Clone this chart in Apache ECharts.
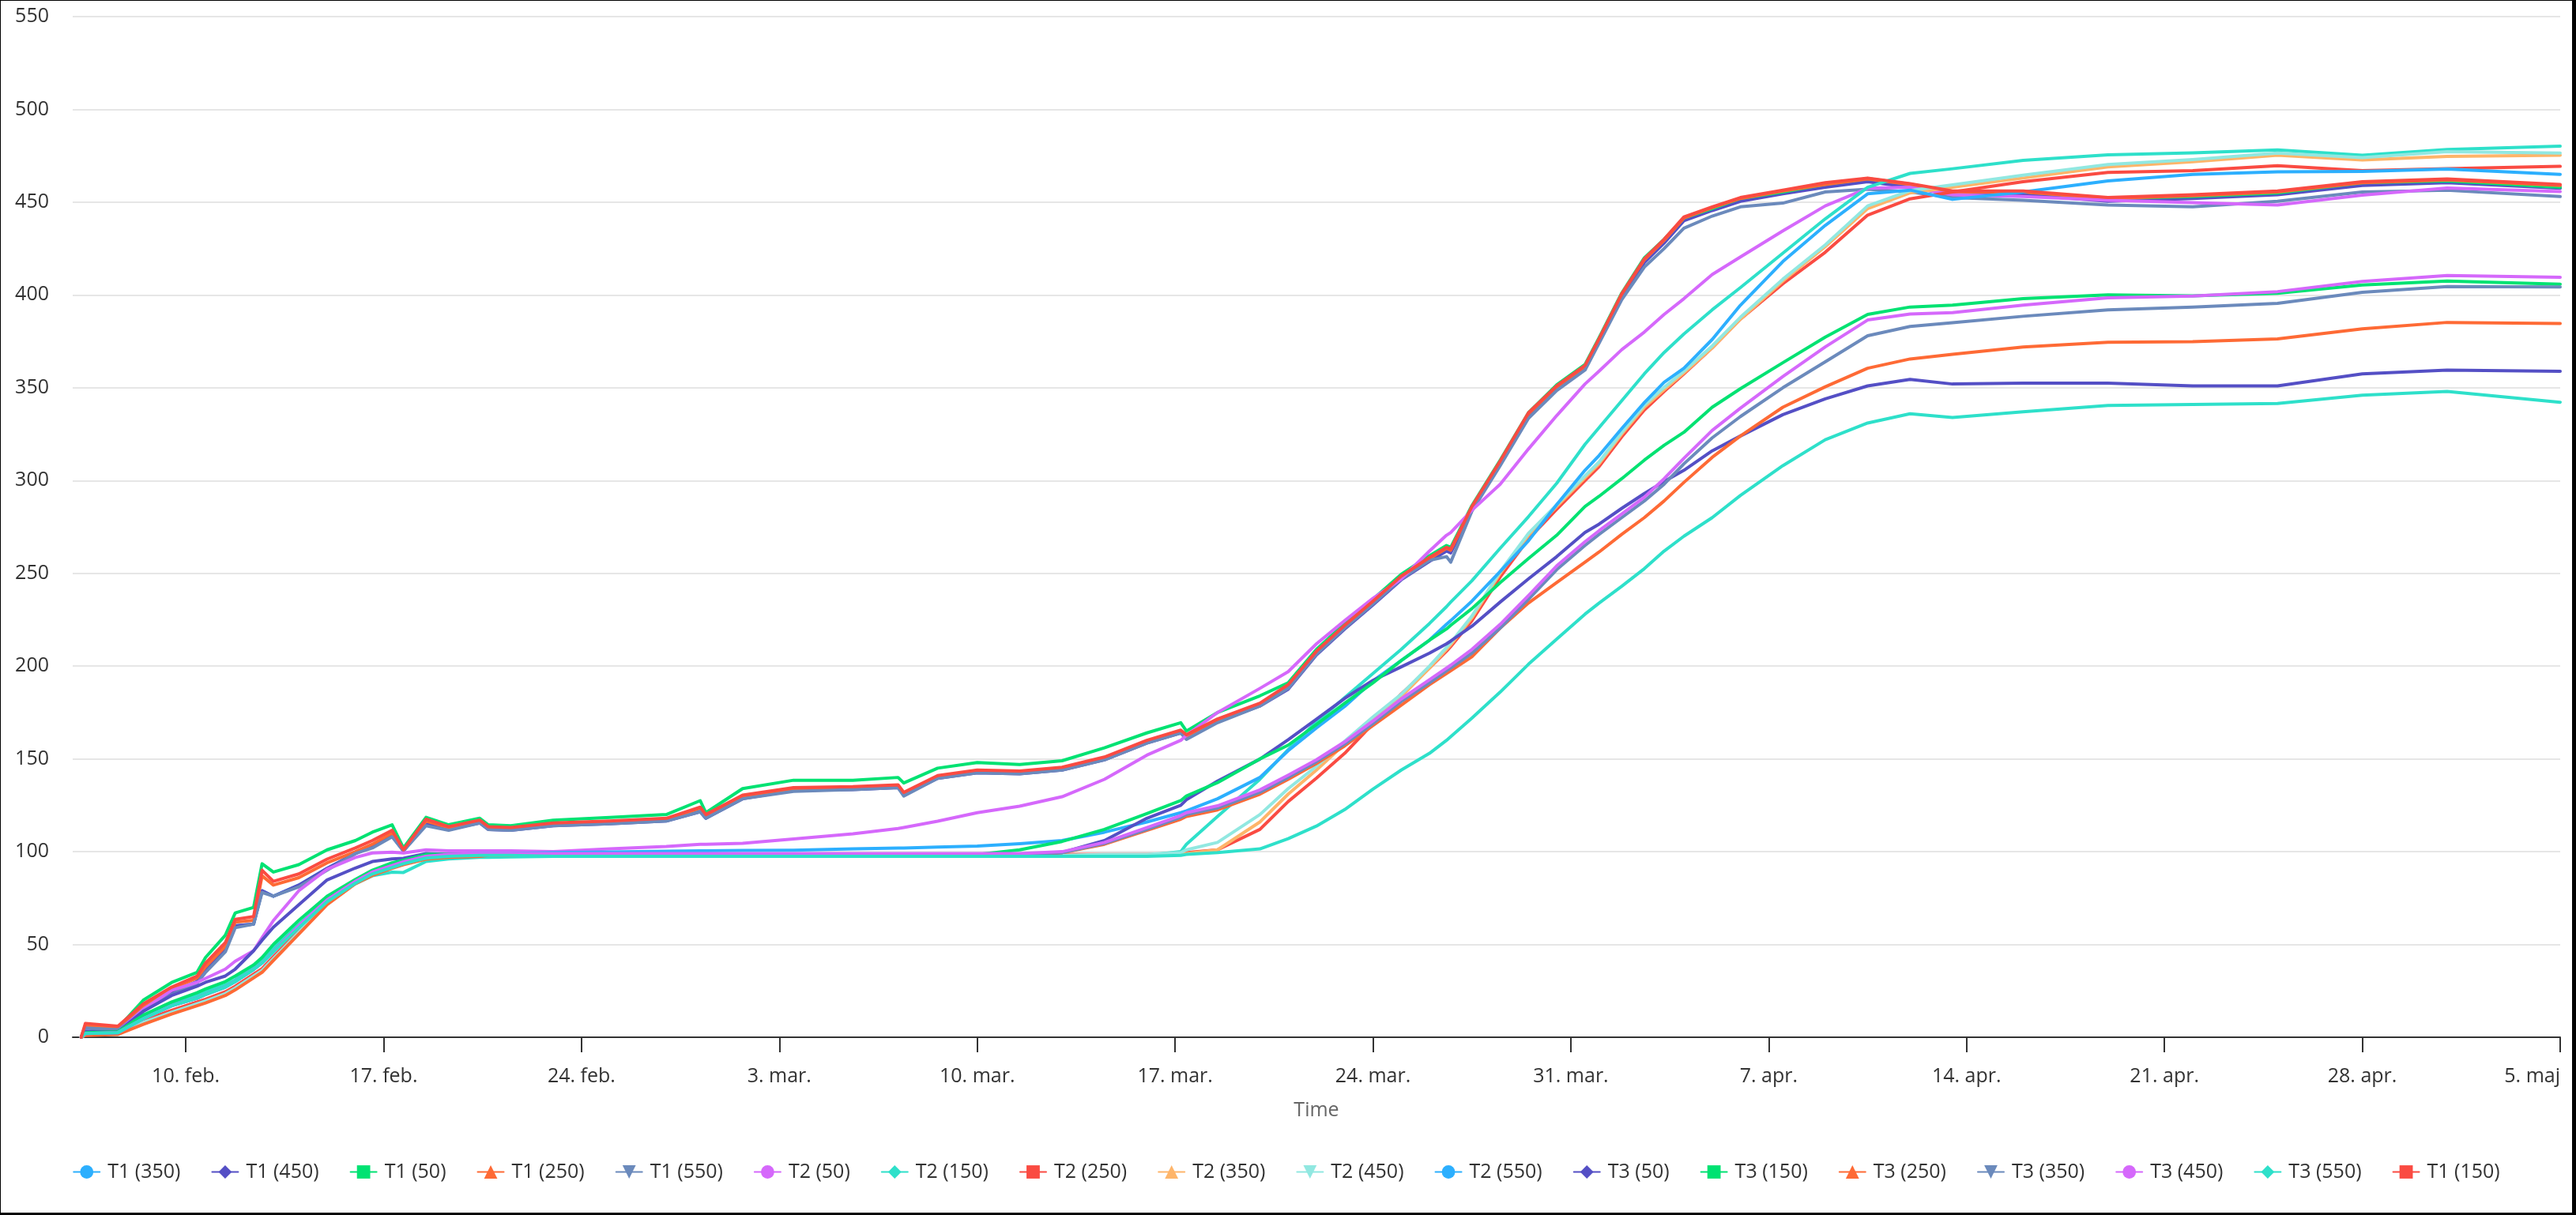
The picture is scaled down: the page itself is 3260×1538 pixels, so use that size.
<!DOCTYPE html>
<html>
<head>
<meta charset="utf-8">
<title>Time chart</title>
<script src="https://cdn.jsdelivr.net/npm/echarts@6/dist/echarts.min.js"></script>
<style>
  html, body { margin: 0; padding: 0; background: #000; }
  #chart { position: absolute; left: 1px; top: 1px; width: 3254px; height: 1534px; background: #fff; }
</style>
</head>
<body>
<div id="chart"></div>
<script>
// sample times (local)
const times = [
  '2025-02-06 07:12', '2025-02-06 10:48', '2025-02-07 14:24', '2025-02-08 12:00', '2025-02-09 12:00', '2025-02-10 09:36', '2025-02-10 16:48', '2025-02-11 09:36', '2025-02-11 18:00', '2025-02-12 09:36',
  '2025-02-12 16:48', '2025-02-13 02:24', '2025-02-14 00:00', '2025-02-15 00:00', '2025-02-16 00:00', '2025-02-16 14:24', '2025-02-17 07:12', '2025-02-17 16:48', '2025-02-18 12:00', '2025-02-19 07:12',
  '2025-02-20 09:36', '2025-02-20 16:48', '2025-02-21 12:00', '2025-02-23 00:00', '2025-02-25 00:00', '2025-02-27 00:00', '2025-02-28 04:48', '2025-02-28 09:36', '2025-03-01 16:48', '2025-03-03 12:00',
  '2025-03-05 14:24', '2025-03-07 04:48', '2025-03-07 09:36', '2025-03-08 14:24', '2025-03-10 00:00', '2025-03-11 12:00', '2025-03-13 00:00', '2025-03-14 12:00', '2025-03-16 00:00', '2025-03-17 04:48',
  '2025-03-17 09:36', '2025-03-18 12:00', '2025-03-20 00:00', '2025-03-21 00:00', '2025-03-22 00:00', '2025-03-23 00:00', '2025-03-24 00:00', '2025-03-25 00:00', '2025-03-26 00:00', '2025-03-26 14:24',
  '2025-03-26 18:00', '2025-03-27 12:00', '2025-03-28 12:00', '2025-03-29 12:00', '2025-03-30 12:00', '2025-03-31 12:00', '2025-04-01 00:00', '2025-04-01 19:12', '2025-04-02 14:24', '2025-04-03 07:12',
  '2025-04-04 00:00', '2025-04-05 00:00', '2025-04-06 00:00', '2025-04-07 12:00', '2025-04-09 00:00', '2025-04-10 12:00', '2025-04-12 00:00', '2025-04-13 12:00', '2025-04-16 00:00', '2025-04-19 00:00',
  '2025-04-22 00:00', '2025-04-25 00:00', '2025-04-28 00:00', '2025-05-01 00:00', '2025-05-05 00:00'
];

// x axis: weekly ticks
const tickDates = ['2025-02-10', '2025-02-17', '2025-02-24', '2025-03-03', '2025-03-10', '2025-03-17', '2025-03-24',
  '2025-03-31', '2025-04-07', '2025-04-14', '2025-04-21', '2025-04-28', '2025-05-05'];
const tickLabels = ['10. feb.', '17. feb.', '24. feb.', '3. mar.', '10. mar.', '17. mar.', '24. mar.',
  '31. mar.', '7. apr.', '14. apr.', '21. apr.', '28. apr.', '5. maj'];

// T1
const t1_350 = [0, 5, 4, 15, 24, 30, 36, 47, 60, 61, 79, 76, 82, 91, 99, 103, 108.5, 100.5, 115, 112,
  116, 112.5, 112, 114.5, 115.5, 117, 122, 118, 129, 133, 134, 135, 131, 140, 143, 142.5, 144.5, 150, 159, 164.5,
  161, 170, 179, 188.5, 207, 221, 234, 247.5, 257.5, 263, 262, 285, 309.5, 335, 350, 361, 376, 400, 418, 428.5,
  440.5, 446, 451, 455, 458.5, 461.5, 458.5, 454.5, 454.5, 451, 452.5, 454.5, 459.5, 461, 458];
const t1_450 = [0, 5, 4, 15, 24, 30, 36, 47, 60, 61, 79, 76, 82, 91, 99, 103, 108.5, 100.5, 115, 112,
  115.5, 112, 111.5, 114, 115, 116.5, 121.5, 118, 128.5, 133, 133.5, 134.5, 130.5, 139.5, 142.5, 142, 144, 149.5, 158.5, 164,
  161, 170, 178.5, 187.5, 206, 220, 233, 246.5, 256.5, 262, 261, 284, 308.5, 334, 349, 360, 375, 399.5, 417.5, 428,
  440, 445.5, 450.5, 454.5, 458, 461, 458, 454, 454, 450.5, 452, 454, 459, 460.5, 457.5];
const t1_50 = [0, 6, 5, 20, 29.5, 35, 43, 55, 67, 70, 93.5, 89, 93, 101, 106, 110.5, 114.5, 102, 118.5, 114.5,
  118, 114.5, 114, 117, 118.5, 120, 127.5, 121, 134, 138.5, 138.5, 140, 137, 145, 148, 147, 149, 156, 164, 169.5,
  165, 175, 184, 191, 209, 223, 236, 249.5, 259.5, 265, 264, 286.5, 311, 336.5, 351.6, 362.5, 377, 401, 420, 430,
  441.5, 446.5, 452, 455.5, 459.6, 462.7, 459.8, 455.5, 455.7, 452, 453, 455, 460.5, 461.5, 458];
const t1_250 = [0, 6.5, 5.5, 17, 26, 32, 38, 49, 62, 63, 87, 82, 86, 94, 100, 104, 110, 100.5, 116.5, 113,
  116.5, 113, 112.5, 115, 116, 117.5, 123.5, 119.5, 130, 134, 134.5, 135.5, 131.5, 140.5, 143.5, 143, 145, 150.5, 159.5, 165,
  162, 171, 179.5, 189, 207.5, 221.5, 234.5, 248, 258, 263.5, 262.5, 285.5, 310, 336, 350.5, 361.5, 376, 400.5, 419, 429.5,
  441.5, 447, 452, 456, 459.5, 462.5, 459.5, 455.5, 455.5, 452, 453.5, 455.5, 460.5, 462, 459];
const t1_550 = [0, 5, 4, 14, 23, 29, 35, 46, 59, 61, 78, 76, 81, 90, 99, 102, 108, 100.4, 114, 111.5,
  115.5, 112, 111.5, 114, 115, 116.5, 121.5, 118, 128.5, 132.5, 133.5, 134.5, 130, 139.5, 142.5, 142, 144, 149.5, 158.5, 164,
  160.5, 169.5, 178.5, 188, 206.5, 220.5, 233.5, 247, 257, 259, 256, 283.5, 308, 333.5, 348.5, 359.5, 374, 397.5, 415, 425,
  436, 442.5, 447.5, 449.5, 455.5, 457, 455.5, 452.5, 451, 448.5, 447.5, 450.5, 455.5, 456.4, 453];
const t1_150 = [0, 7.5, 6, 18, 27, 33, 40, 51, 63.5, 65, 90, 84, 88, 96, 102, 106, 111.5, 101, 117.5, 113.5,
  117, 113.5, 113, 115.5, 116.5, 118, 124, 120, 130.5, 134.5, 135, 136, 132, 141, 144, 143.5, 145.5, 151, 160, 165.5,
  163, 171.5, 180, 190, 208, 222, 235, 248.5, 258.5, 264, 263, 286, 310.5, 336.5, 351, 362, 376.5, 400.5, 419.5, 430,
  442, 447.5, 452.5, 456.5, 460.5, 463, 460, 456, 456, 452.5, 454, 456, 461, 462.5, 459.5];

// T2
const t2_50 = [0, 3, 3, 15, 25.3, 29.6, 31.7, 36.7, 41, 46.6, 53.7, 62.9, 79, 90.5, 96.9, 99.3, 99.7, 99.3, 101, 100.5,
  100.5, 100.5, 100.5, 100, 101.5, 102.8, 104, 104, 104.5, 106.8, 109.6, 112.5, 113, 116.4, 121, 124.5, 129.6, 139, 152, 160,
  162.7, 175, 188, 197, 212, 224.5, 236.5, 247, 262, 270.5, 272, 284, 298, 317, 335, 352, 359, 370.5, 380, 389.5,
  398, 411, 420.5, 434.5, 448, 457.5, 458, 454, 453, 451, 449.8, 448.5, 453.8, 457.6, 455.7];
const t2_150 = [0, 2.5, 2.5, 11, 18.3, 22.5, 24.6, 28.2, 31, 38, 41.6, 48, 60.7, 74.2, 82.7, 87, 89, 88.8, 94.7, 96.1,
  96.9, 97, 97.2, 97.5, 97.5, 97.5, 97.5, 97.5, 97.5, 97.5, 97.5, 97.5, 97.5, 97.5, 97.5, 97.5, 97.5, 98, 98, 100,
  104, 119, 139, 155, 170, 183, 196, 209, 223, 232, 234.5, 246, 263.5, 280.5, 298.5, 319.5, 328.5, 343, 357.5, 369,
  379, 392, 404, 422.5, 441, 458, 465.5, 468, 472.5, 475.5, 476.6, 478.2, 475.3, 478.4, 480.2];
const t2_250 = [0, 2, 2.5, 9, 14.5, 19, 20.5, 24.5, 27.5, 34, 37, 43.4, 57.6, 73.5, 84.7, 89.2, 93, 95, 97.5, 98,
  98.5, 98.5, 98.5, 98.5, 98.5, 98.5, 98.5, 98.5, 98.5, 98.5, 98.5, 98.5, 98.5, 98.5, 98.5, 98.5, 98.5, 98.5, 98.5, 99,
  99.5, 101, 112, 127, 139.6, 153, 169, 185, 199, 208, 210.5, 224.5, 248, 268.5, 284.5, 300, 307.5, 323.5, 338, 348,
  357.5, 371.5, 387, 406, 423, 443, 451.8, 455.5, 461, 466, 467, 469.7, 467, 468.1, 469.3];
const t2_350 = [0, 1.5, 2, 7.5, 13, 17.5, 19, 23, 26, 32.5, 35.5, 42, 56, 72, 83.2, 87.7, 91.6, 93.5, 96.5, 97.5,
  98, 98, 98, 98, 98, 98, 98, 98, 98, 98, 98, 98, 98, 98, 98, 98, 98, 98, 98, 98.5,
  99, 101, 116, 131, 144, 158, 171, 183.5, 199, 209, 211.5, 226, 250, 270.5, 286, 301.5, 309, 325, 339.5, 349,
  358, 371.5, 387, 407.5, 426, 446.5, 455, 458, 463, 469, 471.8, 475.3, 472.7, 474.6, 475.3];
const t2_450 = [0, 1.5, 2, 8, 13.5, 18, 19.5, 23.5, 26.5, 33, 36, 42.4, 56.6, 72.5, 83.7, 88.2, 92.1, 94, 97, 97.5,
  98, 98, 98, 98, 98, 98, 98, 98, 98, 98, 98, 98, 98, 98, 98, 98, 98, 98.5, 98.5, 99.5,
  101, 105, 120, 134, 146, 159.5, 172.6, 184.8, 200, 210, 212.5, 227, 251, 271.5, 287, 302.5, 310, 326, 340.7, 350.2,
  359, 372.5, 388, 408.5, 427, 448, 456.2, 459.3, 464.5, 470.3, 473, 476.5, 474, 477.2, 476.5];
const t2_550 = [0, 2, 2.5, 10, 17, 21, 23, 27, 30, 36.5, 40, 46, 60, 74, 84, 89, 92.5, 94.5, 97.5, 98.5,
  99, 99, 99, 99.5, 99.8, 100.2, 100.5, 100.5, 100.7, 100.8, 101.5, 102, 102, 102.5, 103, 104.3, 106, 110.5, 116, 121,
  122, 128.5, 140, 154.4, 166.7, 178.3, 192, 203, 214, 222.5, 224.5, 235, 251, 267.5, 287, 305.5, 313.5, 328, 342, 353,
  360.5, 376, 394.5, 418, 437.5, 454.5, 456.5, 451.5, 455.5, 461.5, 465, 466.3, 466.6, 467.8, 465];

// T3
const t3_50 = [0, 3, 3, 14, 22.5, 27.5, 29.6, 33, 36.7, 46.6, 52.3, 59.3, 71.4, 84.8, 91.2, 94.7, 96.1, 96.4, 99, 98.5,
  98.5, 98.5, 98.5, 98, 98, 98, 98, 98, 98, 98, 98, 98, 98, 98, 98, 98, 99.5, 106, 118, 125,
  128, 138, 149.9, 160.3, 171.4, 182.6, 192.3, 199.6, 207, 212, 213.5, 221.5, 234.5, 247, 259, 272, 276.5, 285, 293, 299.5,
  305.5, 316, 324, 335.5, 344, 351, 354.5, 352, 352.5, 352.5, 351, 351, 357.5, 359.5, 358.9];
const t3_150 = [0, 2.5, 3, 12, 19, 24, 26, 30, 33, 39, 43, 50, 63, 76, 85, 90, 94, 95.4, 98.5, 98.5,
  98.5, 98.5, 98.5, 98.5, 98.5, 98.5, 98.5, 98.5, 98.5, 98.5, 98.5, 98.5, 98.5, 98.5, 98.5, 101, 105.5, 112, 120.5, 127.5,
  130, 137.2, 150, 157.4, 168.5, 180, 191, 203, 214, 220, 222, 231, 245, 258, 270.5, 286, 291.5, 301, 311, 319,
  326, 339.5, 349.5, 363.5, 377.3, 389.5, 393.5, 394.5, 398, 400, 399.5, 400.9, 405.4, 407.5, 405.8];
const t3_250 = [0, 1, 1.5, 7, 12.5, 17, 18.5, 22.5, 25.5, 32, 35, 41.4, 55.6, 71.5, 82.7, 87.2, 91.1, 93, 96, 97,
  97.5, 98, 98, 98.5, 98.5, 98.5, 98.5, 98.5, 98.5, 98.5, 98.5, 98.5, 98.5, 98.5, 98.5, 98.5, 99.5, 104, 111.5, 117.5,
  119, 122.5, 131, 139, 147.5, 157, 168, 179, 190, 196, 197.5, 205, 220.5, 234, 245, 256, 261.5, 271, 280, 289,
  299, 312.5, 324, 339.5, 350.5, 360.5, 365.5, 368, 372, 374.5, 374.8, 376.3, 381.7, 385.2, 384.6];
const t3_350 = [0, 2, 2.5, 10, 17, 21, 23, 27, 30, 36.5, 40, 46, 60, 74, 84, 89, 92.5, 94.5, 97.5, 98.5,
  98.5, 98.5, 98.5, 98.5, 98.5, 98.5, 98.5, 98.5, 98.5, 98.5, 98.5, 98.5, 98.5, 98.5, 98.5, 98.5, 99.5, 104.5, 112, 118.5,
  120, 123.5, 132, 140, 148.5, 158, 169, 181, 191, 197.5, 199, 207, 220.5, 236, 252, 265, 271, 280, 289, 298,
  309, 323, 334.5, 350, 364, 378, 383, 385, 388.5, 392, 393.5, 395.5, 401.4, 404.5, 404.3];
const t3_450 = [0, 2, 2.5, 10, 17, 21, 23, 27, 30, 36.5, 40, 46, 60, 74, 84, 89, 92.5, 94.5, 97.5, 98.5,
  99, 99, 99, 99, 99, 99, 99, 99, 99, 99, 99, 99, 99, 99, 99, 99, 100, 105, 113, 119.5,
  121, 124.7, 133.3, 141.2, 149.5, 159.2, 170.4, 182.3, 192.7, 198.9, 200.5, 209, 222.5, 238, 254, 267, 273, 282, 291, 301,
  312, 327, 339, 356, 372, 386.5, 389.7, 390.5, 394.5, 398.5, 399.4, 401.8, 407.3, 410.5, 409.5];
const t3_550 = [0, 2, 2.5, 10, 17, 21, 23, 27, 30, 36.5, 40, 46, 59, 73, 83, 88, 91.5, 93.5, 96.5, 97.5,
  98, 98, 98, 97.5, 97.5, 97.5, 97.5, 97.5, 97.5, 97.5, 97.5, 97.5, 97.5, 97.5, 97.5, 97.5, 97.5, 97.5, 97.5, 98,
  98.5, 99.5, 101.5, 107, 113.8, 122.7, 133.7, 144, 153, 160, 162, 172, 186, 201, 214.5, 228, 234, 243, 252.5, 262,
  270, 280, 292, 308, 322, 331, 336, 334, 337, 340.5, 341, 341.5, 346, 348, 342.2];

const seriesNames = ['T1 (350)', 'T1 (450)', 'T1 (50)', 'T1 (250)', 'T1 (550)', 'T2 (50)', 'T2 (150)', 'T2 (250)', 'T2 (350)',
  'T2 (450)', 'T2 (550)', 'T3 (50)', 'T3 (150)', 'T3 (250)', 'T3 (350)', 'T3 (450)', 'T3 (550)', 'T1 (150)'];
const seriesValues = [t1_350, t1_450, t1_50, t1_250, t1_550, t2_50, t2_150, t2_250, t2_350,
  t2_450, t2_550, t3_50, t3_150, t3_250, t3_350, t3_450, t3_550, t1_150];

const palette = ['#2caffe', '#544fc5', '#00e272', '#fe6a35', '#6b8abc', '#d568fb', '#2ee0ca', '#fa4b42', '#feb56a', '#91e8e1'];
const markers = ['circle', 'diamond', 'rect', 'triangle', 'path://M0,0L10,0L5,10Z'];

function parseTime(s) {
  const [d, t] = s.split(' ');
  const [y, m, day] = d.split('-').map(Number);
  const [hh, mm] = (t || '00:00').split(':').map(Number);
  return new Date(y, m - 1, day, hh, mm).getTime();
}

const tickValues = tickDates.map(parseTime);
const font = '"Open Sans", "Noto Sans", sans-serif';

const chart = echarts.init(document.getElementById('chart'));

const option = {
  animation: false,
  color: palette,
  textStyle: { fontFamily: font },
  grid: { left: 91, right: 15, top: 20, bottom: 222, containLabel: false, outerBoundsMode: 'none' },
  legend: {
    bottom: 34,
    left: 'center',
    itemWidth: 33,
    itemHeight: 21,
    itemGap: 39,
    textStyle: { fontSize: 25, color: '#333', fontFamily: font, padding: [0, 0, 0, 5] },
    data: seriesNames
  },
  xAxis: {
    type: 'value',
    min: parseTime('2025-02-06 00:00'),
    max: parseTime('2025-05-05 00:00'),
    name: 'Time',
    nameLocation: 'middle',
    nameGap: 80,
    nameTextStyle: { color: '#666', fontSize: 25, fontFamily: font },
    axisLine: { lineStyle: { color: '#333', width: 2 } },
    axisTick: { show: true, length: 19, lineStyle: { color: '#333', width: 2 }, customValues: tickValues },
    axisLabel: {
      customValues: tickValues,
      margin: 37,
      fontSize: 25,
      color: '#333',
      fontFamily: font,
      alignMaxLabel: 'right',
      formatter: function (v) {
        const i = tickValues.indexOf(v);
        return i >= 0 ? tickLabels[i] : '';
      }
    },
    splitLine: { show: false }
  },
  yAxis: {
    type: 'value',
    min: 0,
    max: 550,
    interval: 50,
    axisLine: { show: false },
    axisTick: { show: false },
    axisLabel: { fontSize: 25, color: '#333', margin: 30, fontFamily: font },
    splitLine: { lineStyle: { color: '#e6e6e6', width: 2 } }
  },
  series: seriesNames.map((name, i) => ({
    name: name,
    type: 'line',
    symbol: markers[i % markers.length],
    showSymbol: false,
    lineStyle: { width: 4, cap: 'round', join: 'round' },
    emphasis: { disabled: true },
    data: times.map((t, k) => [parseTime(t), seriesValues[i][k]])
  }))
};

chart.setOption(option);
</script>
</body>
</html>
